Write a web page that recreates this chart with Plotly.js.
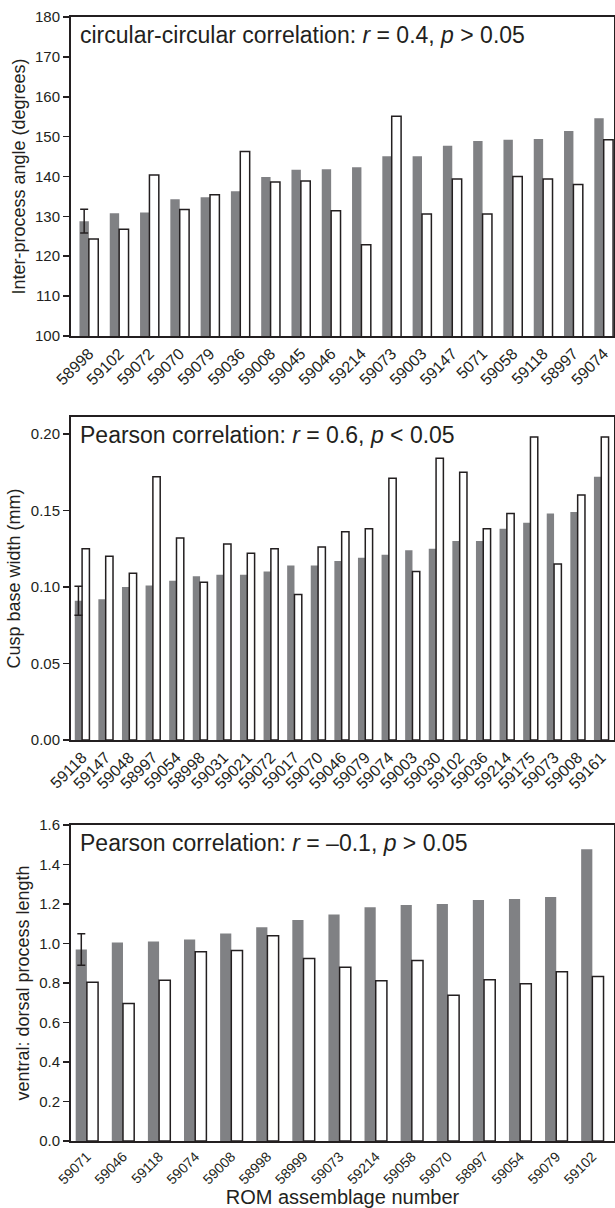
<!DOCTYPE html>
<html>
<head>
<meta charset="utf-8">
<script src="https://cdn.plot.ly/plotly-3.0.1.min.js"></script>
<style>html,body{margin:0;padding:0;background:#fff;overflow:hidden}#chart{width:615px;height:1208px}</style>
</head>
<body>
<div id="chart"></div>
<script>
// Panel 1: inter-process angle
const cats1 = ["58998","59102","59072","59070","59079","59036","59008","59045","59046","59214","59073","59003","59147","5071","59058","59118","58997","59074"];
const gray1 = [128.8,130.8,131.0,134.3,134.8,136.3,139.9,141.7,141.8,142.3,145.1,145.1,147.7,148.9,149.2,149.4,151.4,154.6];
const white1 = [124.3,126.8,140.4,131.7,135.4,146.3,138.6,138.9,131.4,122.9,155.1,130.6,139.4,130.6,140.0,139.4,138.0,149.2];
const err1 = 3.0;

// Panel 2: cusp base width
const cats2 = ["59118","59147","59048","58997","59054","58998","59031","59021","59072","59017","59070","59046","59079","59074","59003","59030","59102","59036","59214","59175","59073","59008","59161"];
const gray2 = [0.091,0.092,0.100,0.101,0.104,0.107,0.108,0.108,0.110,0.114,0.114,0.117,0.119,0.121,0.124,0.125,0.130,0.130,0.138,0.142,0.148,0.149,0.172];
const white2 = [0.125,0.120,0.109,0.172,0.132,0.103,0.128,0.122,0.125,0.095,0.126,0.136,0.138,0.171,0.110,0.184,0.175,0.138,0.148,0.198,0.115,0.160,0.198];
const err2 = 0.0095;

// Panel 3: ventral:dorsal process length
const cats3 = ["59071","59046","59118","59074","59008","58998","58999","59073","59214","59058","59070","58997","59054","59079","59102"];
const gray3 = [0.970,1.005,1.010,1.021,1.051,1.083,1.119,1.147,1.184,1.195,1.200,1.220,1.225,1.235,1.477];
const white3 = [0.804,0.696,0.814,0.958,0.965,1.039,0.924,0.880,0.811,0.914,0.738,0.816,0.796,0.857,0.833];
const err3 = 0.08;

const titles = ["Inter-process angle (degrees)","Cusp base width (mm)","ventral: dorsal process length"];
const notes = [
  "circular-circular correlation: <i>r</i> = 0.4, <i>p</i> &gt; 0.05",
  "Pearson correlation: <i>r</i> = 0.6, <i>p</i> &lt; 0.05",
  "Pearson correlation: <i>r</i> = \u20130.1, <i>p</i> &gt; 0.05"
];
const xTitle = "ROM assemblage number";

const INK = "#231f20";
const GRAY = "#808184";
const FONT = "Liberation Sans, Arial, sans-serif";
const BW = 0.31; // bar width in category units

const panels = [
  {cats:cats1, g:gray1, w:white1, e:err1, ax:"", range:[100,180], dtick:10, fmt:"d", dom:[0.7162,1], xr:[-0.59,17.34], tf:16, ta:-45},
  {cats:cats2, g:gray2, w:white2, e:err2, ax:"2", range:[0,0.211], dtick:0.05, fmt:".2f", dom:[0.3568,0.6441], xr:[-0.47,22.54], tf:16, ta:-45},
  {cats:cats3, g:gray3, w:white3, e:err3, ax:"3", range:[0,1.6], dtick:0.2, fmt:".1f", dom:[0,0.2811], xr:[-0.44,14.6], tf:14, ta:-45}
];

const data = [];
const layout = {
  width:615, height:1208,
  margin:{l:71, r:1, t:17, b:67},
  paper_bgcolor:"#fff", plot_bgcolor:"#fff",
  showlegend:false,
  barmode:"overlay",
  font:{family:FONT, color:INK, size:15},
  annotations:[]
};

panels.forEach((p,i)=>{
  const xa = "x"+p.ax, ya = "y"+p.ax;
  data.push({
    type:"bar", x:p.cats, y:p.g, xaxis:xa, yaxis:ya,
    offset:-BW, width:BW,
    marker:{color:GRAY, line:{width:0}},
    hoverinfo:"skip"
  });
  data.push({
    type:"bar", x:p.cats, y:p.w, xaxis:xa, yaxis:ya,
    offset:0, width:BW,
    marker:{color:"#ffffff", line:{width:1.5, color:INK}},
    hoverinfo:"skip"
  });
  // error bar on the first grey bar only
  data.push({
    type:"bar", x:[p.cats[0]], y:[p.g[0]], xaxis:xa, yaxis:ya,
    offset:-BW, width:BW,
    marker:{color:"rgba(0,0,0,0)", line:{width:0}},
    error_y:{type:"data", array:[p.e], visible:true, color:INK, thickness:1.5, width:4},
    hoverinfo:"skip"
  });
  const xKey = "xaxis"+p.ax, yKey = "yaxis"+p.ax;
  layout[xKey] = {
    type:"category", anchor:ya, domain:[0,1], range:p.xr,
    tickmode:"linear", tick0:0, dtick:1,
    tickangle:p.ta, tickfont:{size:p.tf, family:FONT, color:INK},
    ticks:"", showline:true, linewidth:2, linecolor:INK, mirror:true,
    showgrid:false, zeroline:false, fixedrange:true
  };
  layout[yKey] = {
    anchor:xa, domain:p.dom, range:p.range, dtick:p.dtick, tick0:0, tickformat:p.fmt,
    ticks:"outside", ticklen:6, tickwidth:1.5, tickcolor:INK,
    tickfont:{size:15, family:FONT, color:INK},
    showline:true, linewidth:2, linecolor:INK, mirror:true,
    showgrid:false, zeroline:false, fixedrange:true,
    title:{text:titles[i], font:{size:18, family:FONT, color:INK}, standoff:5}
  };
  layout.annotations.push({
    xref:xa+" domain", yref:ya+" domain", x:0, y:1, xanchor:"left", yanchor:"top",
    xshift:7, yshift:-3, showarrow:false, align:"left",
    text:notes[i], font:{size:23, family:FONT, color:INK}
  });
});
layout.xaxis3.title = {text:xTitle, font:{size:20, family:FONT, color:INK}, standoff:6};

Plotly.newPlot("chart", data, layout, {staticPlot:true, displayModeBar:false});
</script>
</body>
</html>
